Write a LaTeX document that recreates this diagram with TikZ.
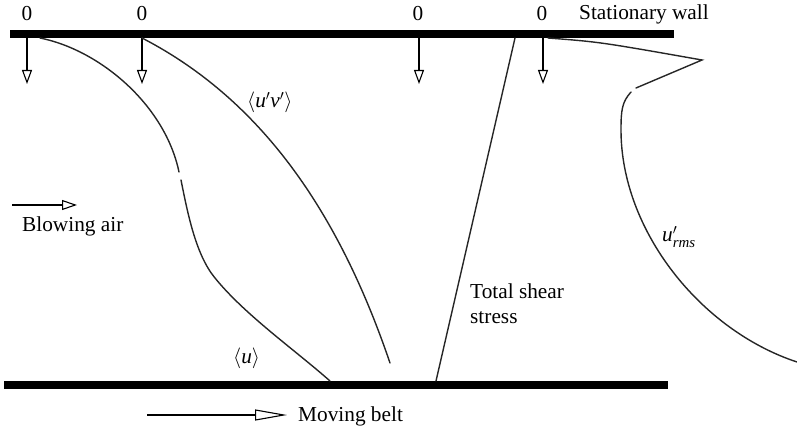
\documentclass[tikz,border=0pt]{standalone}
\usepackage{amsmath}
\usepackage{fontspec}
\setmainfont{Liberation Serif}
\usetikzlibrary{arrows.meta}
\begin{document}
\begin{tikzpicture}[x=1pt,y=-1pt,
  wallfill/.style={fill=black},
  curve/.style={line width=1.4pt, black!85, line cap=round},
  txt/.style={inner sep=0pt, font=\fontsize{21.3}{25}\selectfont},
  downarrow/.style={line width=1.1pt, -{Triangle[open,length=14pt,width=10pt]}},
  sidearrow/.style={line width=1.1pt, -{Triangle[open,length=15pt,width=10pt]}},
  beltarrow/.style={line width=1.1pt, -{Triangle[open,length=32pt,width=11pt]}},
]
\useasboundingbox (0,0) rectangle (797,430);

% walls
\fill[wallfill] (10,30) rectangle (674,38);
\fill[wallfill] (4,381) rectangle (668,389);

% zero labels and stationary wall label
\node[txt, anchor=base] (z1) at (27,21) {0};
\node[txt, anchor=base] (z2) at (142,21) {0};
\node[txt, anchor=base] (z3) at (418,21) {0};
\node[txt, anchor=base] (z4) at (542,21) {0};
\node[txt, anchor=base west] (sw) at (579,20) {Stationary wall};

% suction arrows
\coordinate (a1s) at (27,38);  \coordinate (a1e) at (27,84);
\coordinate (a2s) at (142,38); \coordinate (a2e) at (142,84);
\coordinate (a3s) at (419,38); \coordinate (a3e) at (419,84);
\coordinate (a4s) at (543,38); \coordinate (a4e) at (543,84);
\draw[downarrow] (a1s) -- (a1e);
\draw[downarrow] (a2s) -- (a2e);
\draw[downarrow] (a3s) -- (a3e);
\draw[downarrow] (a4s) -- (a4e);

% <u> profile
\draw[curve] (40,38) .. controls (100,50) and (165,105) .. (179,172);
\draw[curve] (181,180) .. controls (188,215) and (196,255) .. (215,278)
             .. controls (245,315) and (295,350) .. (330,381);

% <u'v'> profile
\draw[curve] (142,38) .. controls (262,100) and (339,213) .. (390,363);

% total shear stress
\coordinate (tss) at (515,38);
\coordinate (tse) at (436,381);
\draw[curve] (tss) -- (tse);

% u'_rms profile
\draw[curve] (548,38) .. controls (600,42) .. (702,60) -- (636,88);
\draw[curve] (631,92) .. controls (622,102) and (621,110) .. (621,130)
             .. controls (621,230) and (700,330) .. (797,362);

% labels
\node[txt, anchor=base west] (uv) at (247,108) {$\langle$\textit{u}$'$\textit{v}$'\rangle$};
\node[txt, anchor=base west] (u) at (233,363) {$\langle$\textit{u}$\rangle$};
\node[txt, anchor=base west] (urms) at (662,242) {\textit{u}$'_{\text{\itshape rms}}$};
\node[txt, anchor=base west] (ts1) at (470,298) {Total shear};
\node[txt, anchor=base west] (ts2) at (470,323) {stress};

% blowing air
\coordinate (bas) at (12,205);
\coordinate (bae) at (77,205);
\draw[sidearrow] (bas) -- (bae);
\node[txt, anchor=base west] (ba) at (22,232) {Blowing air};

% moving belt
\coordinate (mbs) at (147,415);
\coordinate (mbe) at (287,415);
\draw[beltarrow] (mbs) -- (mbe);
\node[txt, anchor=base west] (mb) at (298,421) {Moving belt};
\end{tikzpicture}
\end{document}
